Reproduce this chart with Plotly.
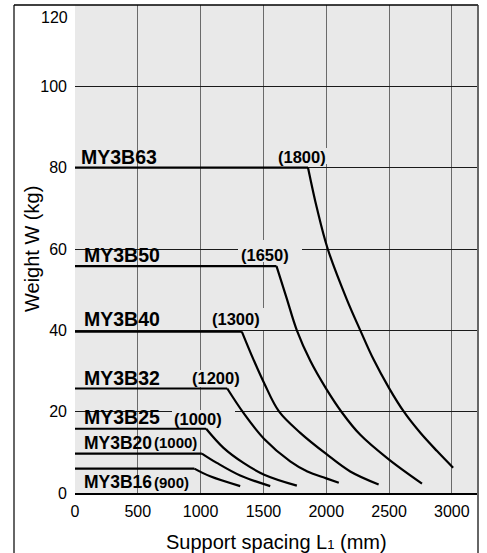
import plotly.graph_objects as go

# ---------------- data ----------------
series_names = ["MY3B63", "MY3B50", "MY3B40", "MY3B32", "MY3B25", "MY3B20", "MY3B16"]
limit_labels = ["(1800)", "(1650)", "(1300)", "(1200)", "(1000)", "(1000)", "(900)"]
flat_weight = [80, 55.8, 39.7, 25.7, 15.8, 9.7, 6.0]

my3b63_x = [1855, 1926, 2012, 2165, 2271, 2377, 2500, 2622, 2749, 2882, 3010]
my3b63_y = [80, 70, 60, 47.5, 40, 32.8, 25.8, 19.8, 14.8, 10.3, 6.2]

my3b50_x = [1604, 1684, 1766, 1873, 2000, 2125, 2271, 2500, 2762]
my3b50_y = [55.8, 48, 40, 32.5, 25.6, 19.8, 14.3, 8.2, 2.3]

my3b40_x = [1328, 1421, 1506, 1625, 1793, 2000, 2191, 2417]
my3b40_y = [39.7, 32.8, 27.0, 20.0, 14.8, 9.6, 5.3, 2.1]

my3b32_x = [1212, 1341, 1506, 1713, 1850, 2000, 2100]
my3b32_y = [25.7, 19.7, 13.3, 7.8, 5.3, 3.6, 2.5]

my3b25_x = [1044, 1182, 1341, 1506, 1766]
my3b25_y = [15.8, 11.1, 7.4, 4.5, 1.8]

my3b20_x = [1010, 1129, 1315, 1554]
my3b20_y = [9.7, 7.4, 4.3, 1.7]

my3b16_x = [950, 1076, 1315]
my3b16_y = [6.0, 4.1, 1.7]

curves_x = [my3b63_x, my3b50_x, my3b40_x, my3b32_x, my3b25_x, my3b20_x, my3b16_x]
curves_y = [my3b63_y, my3b50_y, my3b40_y, my3b32_y, my3b25_y, my3b20_y, my3b16_y]

x_ticks = [0, 500, 1000, 1500, 2000, 2500, 3000]
y_ticks = [0, 20, 40, 60, 80, 100, 120]

# ---------------- layout geometry ----------------
W, H = 487, 553
M_L, M_R, M_T, M_B = 75, 10, 5, 60
X_MAX, Y_MAX = 3200, 120
PLOT_W, PLOT_H = W - M_L - M_R, H - M_T - M_B


def px_to_x(px):
    return (px - M_L) / PLOT_W * X_MAX


def px_to_y(py):
    return (H - M_B - py) / PLOT_H * Y_MAX


name_pos = [(40, 82.7), (64, 58.6), (64, 42.7), (64, 28.4), (64, 18.6), (64, 12.4), (64, 2.6)]
name_size = [19.5, 19.5, 19.5, 19.5, 19.5, 17.5, 17.5]
limit_pos = [(1807, 82.7), (1512, 58.6), (1282, 42.7), (1122, 28.2), (979, 18.3), (796, 12.4), (772, 2.6)]
limit_size = [16.5, 16.5, 16.5, 16.5, 16.5, 15, 15]
# plain patches (pixel boxes) behind the bracketed labels that break the grid lines
label_patches = [(276, 330, 148, 164), (238, 302, 240, 262), (208, 268, 308, 330),
                 (188, 244, 370, 387), (172, 235, 410, 428), (151, 200, 436, 452), (152, 193, 476, 490)]

FONT = "Liberation Sans, Arial, Helvetica, sans-serif"
BG = "#e9e9e9"

fig = go.Figure()
for i, name in enumerate(series_names):
    cx, cy = curves_x[i], curves_y[i]
    fig.add_trace(go.Scatter(x=[0, cx[0]], y=[flat_weight[i], flat_weight[i]],
                             mode="lines", line=dict(color="black", width=2.2),
                             hoverinfo="skip", showlegend=False))
    fig.add_trace(go.Scatter(x=cx, y=cy, mode="lines",
                             line=dict(color="black", width=2.2, shape="spline", smoothing=1.0),
                             name=name, showlegend=False))

annotations = []
for i, name in enumerate(series_names):
    annotations.append(dict(x=name_pos[i][0], y=name_pos[i][1], xref="x", yref="y",
                            text=f"<b>{name}</b>", showarrow=False, xanchor="left", yanchor="middle",
                            borderpad=0, font=dict(family=FONT, size=name_size[i], color="black")))
    annotations.append(dict(x=limit_pos[i][0], y=limit_pos[i][1], xref="x", yref="y",
                            text=f"<b>{limit_labels[i]}</b>", showarrow=False, xanchor="center", yanchor="middle",
                            borderpad=0, font=dict(family=FONT, size=limit_size[i], color="black")))

# top tick label (120) sits a little below its gridline, as in the source
annotations.append(dict(x=px_to_x(68.5) / X_MAX, y=px_to_y(17.5), xref="paper", yref="y", text=str(y_ticks[-1]),
                        showarrow=False, xanchor="right", yanchor="middle", borderpad=0,
                        font=dict(family=FONT, size=16, color="black")))

annotations.append(dict(x=px_to_x(32) / X_MAX, y=0.5, xref="paper", yref="paper", text="Weight W (kg)",
                        textangle=-90, showarrow=False, xanchor="center", yanchor="middle",
                        font=dict(family=FONT, size=20, color="black")))
annotations.append(dict(x=0.5, y=px_to_y(542) / Y_MAX, xref="paper", yref="paper",
                        text="Support spacing L<span style='font-size:13px'>1</span> (mm)",
                        showarrow=False, xanchor="center", yanchor="middle",
                        font=dict(family=FONT, size=20, color="black")))

shapes = []
for (x0, x1, y0, y1) in label_patches:
    shapes.append(dict(type="rect", xref="x", yref="y", x0=px_to_x(x0), x1=px_to_x(x1),
                       y0=px_to_y(y1), y1=px_to_y(y0), fillcolor=BG, line=dict(width=0), layer="between"))

# outer frame (open at the bottom)
frame_left = px_to_x(14) / X_MAX
frame_right = px_to_x(478) / X_MAX
shapes += [
    dict(type="line", xref="paper", yref="paper", x0=frame_left, x1=frame_left, y0=1, y1=-0.2,
         line=dict(color="#333", width=1.5), layer="above"),
    dict(type="line", xref="paper", yref="paper", x0=frame_left, x1=frame_right, y0=1, y1=1,
         line=dict(color="black", width=1.5), layer="above"),
    dict(type="line", xref="paper", yref="paper", x0=frame_right, x1=frame_right, y0=1, y1=-0.2,
         line=dict(color="#333", width=1.5), layer="above"),
]

fig.update_layout(
    width=W, height=H,
    margin=dict(l=M_L, r=M_R, t=M_T, b=M_B),
    paper_bgcolor="white", plot_bgcolor=BG,
    font=dict(family=FONT, size=16, color="black"),
    annotations=annotations, shapes=shapes, showlegend=False,
)
fig.update_xaxes(range=[0, X_MAX], tickvals=x_ticks, ticktext=[str(v) for v in x_ticks],
                 showgrid=True, gridcolor="#6a6a6a", gridwidth=1.4, zeroline=False,
                 showline=True, linecolor="black", linewidth=1.5, ticks="",
                 ticklabelstandoff=3, tickfont=dict(size=16))
fig.update_yaxes(range=[0, Y_MAX], tickvals=y_ticks[:-1], ticktext=[str(v) for v in y_ticks[:-1]],
                 showgrid=True, gridcolor="#1a1a1a", gridwidth=1, zeroline=False,
                 showline=False, ticks="", ticklabelstandoff=7, tickfont=dict(size=16))

fig.write_html("out.html", config={"displayModeBar": False},
               post_script="document.body.style.margin='0px';document.body.style.padding='0px';")
